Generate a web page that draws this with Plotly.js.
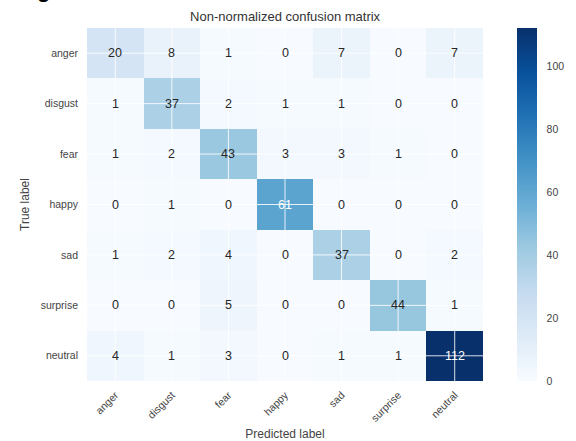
<!DOCTYPE html>
<html>
<head>
<meta charset="utf-8">
<script src="https://cdn.plot.ly/plotly-3.0.1.min.js"></script>
<style>html,body{margin:0;padding:0;background:#fff;}#chart{width:576px;height:441px;}</style>
</head>
<body>
<div id="chart"></div>
<script>
const predictedLabels = ["anger", "disgust", "fear", "happy", "sad", "surprise", "neutral"];
const trueLabels = ["anger", "disgust", "fear", "happy", "sad", "surprise", "neutral"];
const rowAnger    = [20, 8, 1, 0, 7, 0, 7];
const rowDisgust  = [1, 37, 2, 1, 1, 0, 0];
const rowFear     = [1, 2, 43, 3, 3, 1, 0];
const rowHappy    = [0, 1, 0, 61, 0, 0, 0];
const rowSad      = [1, 2, 4, 0, 37, 0, 2];
const rowSurprise = [0, 0, 5, 0, 0, 44, 1];
const rowNeutral  = [4, 1, 3, 0, 1, 1, 112];
const colorbarTicks = [0, 20, 40, 60, 80, 100];

const matrix = [rowAnger, rowDisgust, rowFear, rowHappy, rowSad, rowSurprise, rowNeutral];
let zmax = 0;
matrix.forEach(r => r.forEach(v => { if (v > zmax) zmax = v; }));
const thresh = zmax / 2;

const blues = [
  [0.000, '#f7fbff'], [0.125, '#deebf7'], [0.250, '#c6dbef'], [0.375, '#9ecae1'],
  [0.500, '#6baed6'], [0.625, '#4292c6'], [0.750, '#2171b5'], [0.875, '#08519c'], [1.000, '#08306b']
];

const FONT = 'Liberation Sans, Arial, sans-serif';
const annotations = [];
matrix.forEach((row, i) => row.forEach((v, j) => {
  annotations.push({
    x: predictedLabels[j], y: trueLabels[i], xref: 'x', yref: 'y',
    text: String(v), showarrow: false,
    font: {family: FONT, size: 12.5, color: v > thresh ? '#ffffff' : '#262626'}
  });
}));
annotations.push({
  xref: 'paper', yref: 'paper', x: -0.2, y: 1.068, xanchor: 'left', yanchor: 'bottom',
  text: '<b>Page 50</b>', showarrow: false,
  font: {family: FONT, size: 22, color: '#000'}
});

const shapes = [];
predictedLabels.forEach((c, j) => {
  shapes.push({type: 'line', xref: 'x', yref: 'paper', x0: j, x1: j, y0: 0, y1: 1,
    line: {color: 'rgba(255,255,255,0.85)', width: 1}, layer: 'above'});
});
trueLabels.forEach((c, i) => {
  shapes.push({type: 'line', xref: 'paper', yref: 'y', x0: 0, x1: 1, y0: i, y1: i,
    line: {color: 'rgba(255,255,255,0.85)', width: 1}, layer: 'above'});
});

const trace = {
  type: 'heatmap',
  x: predictedLabels, y: trueLabels, z: matrix,
  colorscale: blues, zmin: 0, zmax: zmax,
  hoverinfo: 'skip',
  colorbar: {
    x: 1.0859, xanchor: 'left', xref: 'paper',
    y: 0.5, yanchor: 'middle', len: 1.0, lenmode: 'fraction',
    thickness: 20, outlinewidth: 0, xpad: 0, ypad: 0,
    tickvals: colorbarTicks, ticks: 'outside', ticklen: 8, tickcolor: 'rgba(0,0,0,0)',
    tickfont: {family: FONT, size: 10.5, color: '#444'}
  }
};

const layout = {
  width: 576, height: 441,
  margin: {l: 87, r: 93, t: 28, b: 60, pad: 0, autoexpand: false},
  paper_bgcolor: '#fff', plot_bgcolor: '#fff',
  font: {family: FONT, color: '#444'},
  title: {text: 'Non-normalized confusion matrix', x: 0.495, xanchor: 'center', y: 0.962, yanchor: 'middle',
    font: {family: FONT, size: 13, color: '#333'}},
  xaxis: {
    type: 'category', categoryorder: 'array', categoryarray: predictedLabels,
    tickangle: -45, showgrid: false, zeroline: false, showline: false, ticks: '',
    ticklabelstandoff: 5, automargin: false,
    tickfont: {family: FONT, size: 10.5, color: '#444'},
    title: {text: 'Predicted label', standoff: 6, font: {family: FONT, size: 12, color: '#444'}}
  },
  yaxis: {
    type: 'category', categoryorder: 'array', categoryarray: trueLabels, autorange: 'reversed',
    showgrid: false, zeroline: false, showline: false, ticks: '',
    ticklabelstandoff: 8, automargin: false,
    tickfont: {family: FONT, size: 10.5, color: '#444'},
    title: {text: 'True label', standoff: 8, font: {family: FONT, size: 12, color: '#444'}}
  },
  annotations: annotations,
  shapes: shapes
};

Plotly.newPlot('chart', [trace], layout, {displayModeBar: false, staticPlot: true});
</script>
</body>
</html>
